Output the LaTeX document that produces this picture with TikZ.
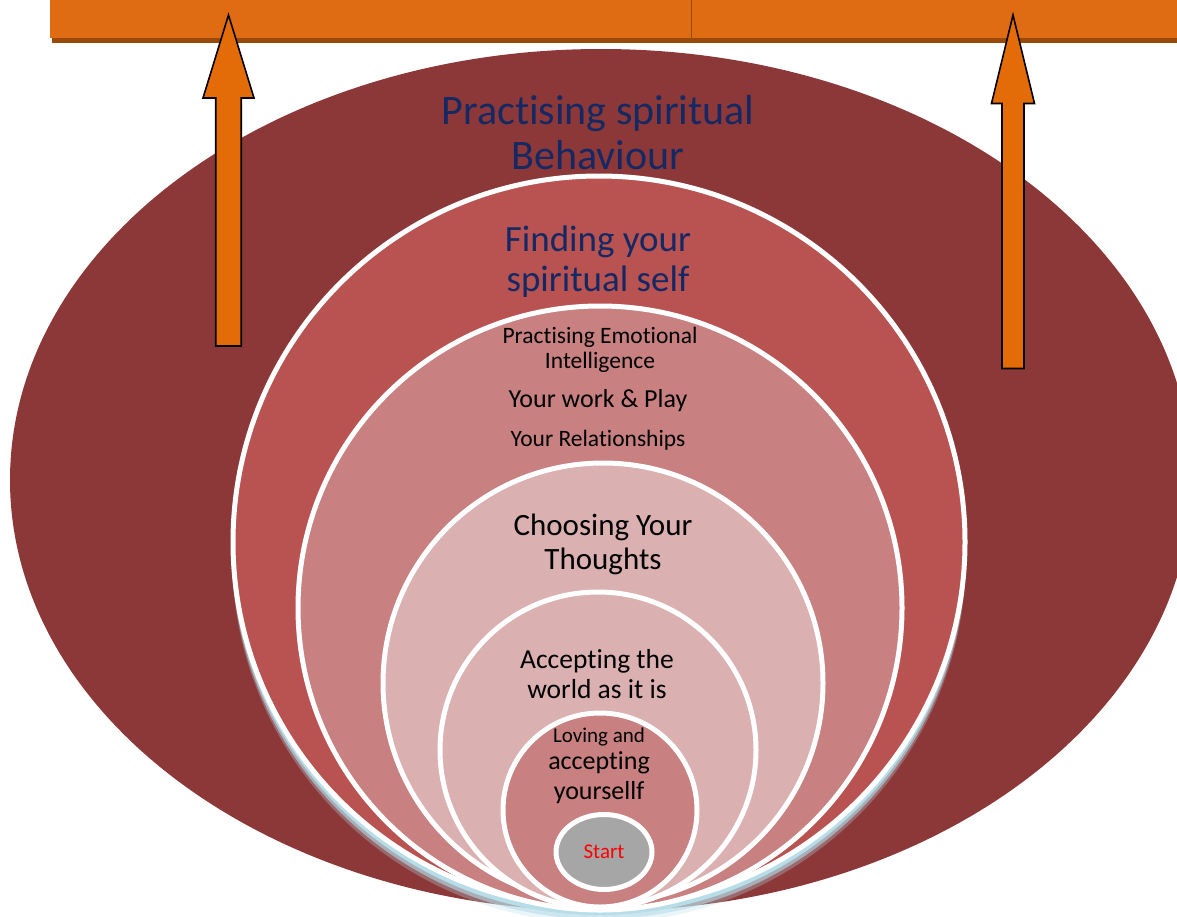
\documentclass[tikz,border=0pt]{standalone}
\usepackage{fontspec}
\setmainfont{Carlito}[RawFeature={-liga;-clig;-dlig;-calt}]
\usepackage{tikz}
\usetikzlibrary{calc}

\definecolor{outerred}{RGB}{140,56,56}
\definecolor{selfred}{RGB}{184,83,81}
\definecolor{rosered}{RGB}{200,128,128}
\definecolor{palerose}{RGB}{219,176,177}
\definecolor{startgray}{RGB}{166,166,166}
\definecolor{barorange}{RGB}{223,108,18}
\definecolor{barshadow}{RGB}{154,74,8}
\definecolor{arroworange}{RGB}{227,108,9}
\definecolor{glowblue}{RGB}{183,221,232}
\definecolor{titleblue}{RGB}{20,40,100}

\begin{document}
\begin{tikzpicture}[x=1pt, y=-1pt,
    ring/.style={draw=white, line width=5pt},
    ringtext/.style={align=center, inner sep=0pt, text=black},
    blockarrow/.style={fill=arroworange, draw=black, line width=1.6pt, line join=miter}]
    \useasboundingbox (0,0) rectangle (1177,916);
    \begin{scope}
    \clip (0,0) rectangle (1177,916);
    \coordinate (E) at (601,480);
    \coordinate (C1) at (599,542);
    \coordinate (C2) at (600,608);
    \coordinate (C3) at (603,683);
    \coordinate (C4) at (598,750);
    \coordinate (C5) at (600,810);
    \coordinate (S) at (604,852);
    \fill[outerred] (E) ellipse (591 and 431);
    \foreach \d/\op in {14/0.3,10/0.6,6/1}
        \fill[glowblue, opacity=\op] ($(C1)+(0,\d)$) circle (367);
    \filldraw[ring, fill=selfred] (C1) circle (366);
    \filldraw[ring, fill=rosered] (C2) circle (302);
    \filldraw[ring, fill=palerose] (C3) circle (220);
    \filldraw[ring, fill=palerose] (C4) circle (158);
    \filldraw[ring, fill=rosered] (C5) circle (97);
    \filldraw[ring, fill=startgray] (S) ellipse (48 and 37.5);
    \end{scope}

    \fill[barorange] (50,0) rectangle (1177,38);
    \fill[barshadow] (52,38) rectangle (1177,43);
    \draw[barshadow, line width=0.8pt] (691,0) -- (691,38);

    \coordinate (ltip) at (228.5,15);
    \coordinate (rtip) at (1013,15);
    \filldraw[blockarrow] (ltip) -- ++(25.5,83) -- ++(-12.75,0) -- ++(0,248)
        -- ++(-25.5,0) -- ++(0,-248) -- ++(-12.75,0) -- cycle;
    \filldraw[blockarrow] (rtip) -- ++(21.5,88.5) -- ++(-10.5,0) -- ++(0,265)
        -- ++(-22,0) -- ++(0,-265) -- ++(-10.5,0) -- cycle;

    \node[ringtext, text=titleblue, font=\fontsize{42}{45}\selectfont] (behaviour) at (598,133)
        {Practising spiritual\\Behaviour};
    \node[ringtext, text=titleblue, font=\fontsize{37}{40}\selectfont] (self) at (598,262)
        {Finding your\\spiritual self};
    \node[ringtext, font=\fontsize{23.5}{25}\selectfont] (emotional) at (600,350)
        {Practising Emotional\\Intelligence};
    \node[ringtext, font=\fontsize{26}{30}\selectfont] (work) at (598,401) {Your work \& Play};
    \node[ringtext, font=\fontsize{23.5}{28}\selectfont] (relations) at (598,440) {Your Relationships};
    \node[ringtext, font=\fontsize{31}{34}\selectfont] (thoughts) at (603,544)
        {Choosing Your\\Thoughts};
    \node[ringtext, font=\fontsize{27.5}{30}\selectfont] (world) at (597,674)
        {Accepting the\\world as it is};
    \node[ringtext, font=\fontsize{26}{30}\selectfont] (yourself) at (599,766)
        {{\fontsize{21}{25}\selectfont Loving and}\\[-3pt]accepting\\yoursellf};
    \node[ringtext, text=red, font=\fontsize{21}{25}\selectfont] (start) at (S) {Start};
\end{tikzpicture}
\end{document}
